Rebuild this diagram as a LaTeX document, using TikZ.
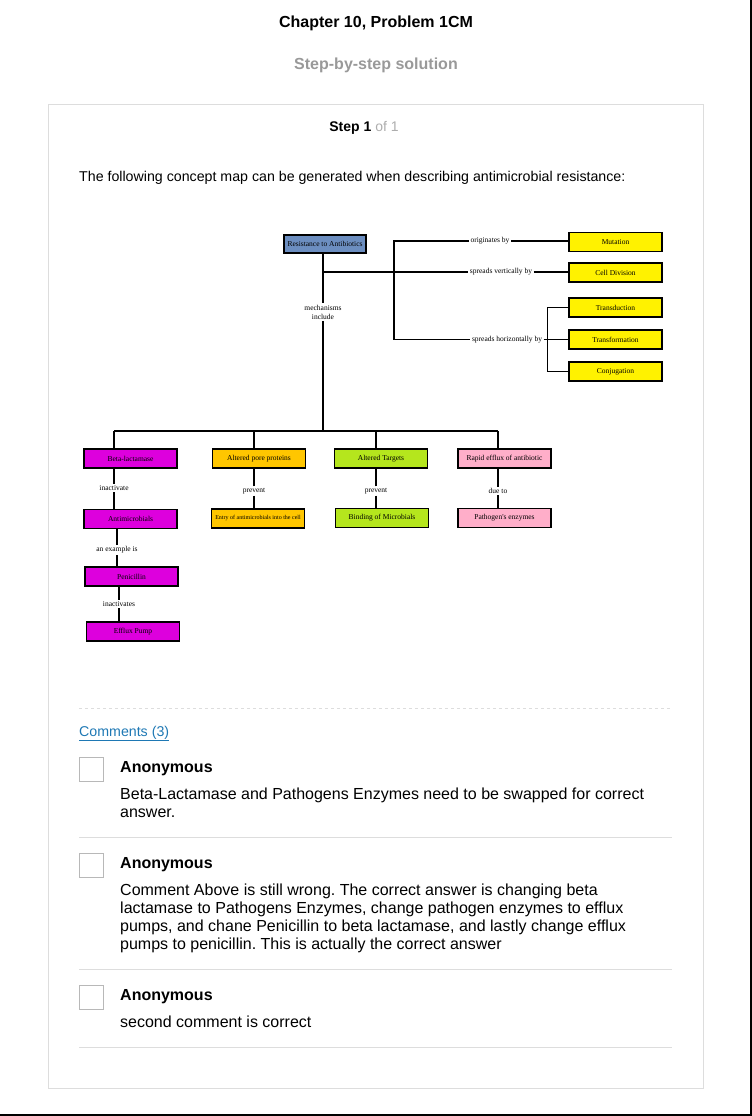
\documentclass[tikz,border=0pt]{standalone}
\usepackage{fontspec}
\setmainfont{Liberation Sans}
\newfontfamily\mapfont{Liberation Serif}
\usetikzlibrary{calc}
\frenchspacing

\definecolor{rootblue}{RGB}{108,142,192}
\definecolor{mapyellow}{RGB}{255,242,0}
\definecolor{mapmagenta}{RGB}{221,0,221}
\definecolor{maporange}{RGB}{255,198,0}
\definecolor{mapgreen}{RGB}{181,230,29}
\definecolor{mappink}{RGB}{255,174,201}
\definecolor{cardline}{RGB}{221,221,221}
\definecolor{softgray}{RGB}{153,153,153}
\definecolor{linkblue}{RGB}{30,120,180}

\tikzset{
  mapbox/.style={draw, line width=1.4pt, minimum width=93pt, minimum height=19pt,
    inner sep=0pt, font=\mapfont\fontsize{7.5}{8}\selectfont},
  maplabel/.style={inner sep=1.5pt, font=\mapfont\fontsize{7.5}{9}\selectfont},
  mapline/.style={line width=1.4pt},
  pagetext/.style={anchor=west, inner sep=0pt, font=\fontsize{14.2}{17}\selectfont},
  commenttext/.style={anchor=north west, inner sep=0pt, align=left,
    font=\fontsize{16}{18}\selectfont},
  author/.style={anchor=west, inner sep=0pt, font=\bfseries\fontsize{16}{18}\selectfont},
  tickbox/.style={draw=softgray!70, line width=0.8pt, minimum size=24pt, inner sep=0pt}
}

\begin{document}
\begin{tikzpicture}[x=1pt,y=-1pt]
\useasboundingbox (0,0) rectangle (752,1116);
\draw[line width=2pt] (751,0) -- (751,1115) -- (0,1115);

% page header
\node[font=\bfseries\fontsize{16}{19}\selectfont] (title) at (376,23) {Chapter 10, Problem 1CM};
\node[font=\bfseries\fontsize{16}{19}\selectfont, text=softgray] (sub) at (376,65) {Step-by-step solution};

\draw[cardline, line width=1pt] (48,104) rectangle (703,1088);
\node[font=\fontsize{14}{16}\selectfont] (step) at (364,128) {\textbf{Step 1} \textcolor{softgray!80}{of 1}};
\node[pagetext] (intro) at (79,177.5) {The following concept map can be generated when describing antimicrobial resistance:};

% concept map, upper part
\begin{scope}
\node[mapbox, fill=rootblue, minimum width=82pt, minimum height=18pt] (rta) at (325,244) {Resistance to Antibiotics};

\node[mapbox, fill=mapyellow] (mut) at (615.5,242) {Mutation};
\node[mapbox, fill=mapyellow] (cell) at (615.5,272.5) {Cell Division};
\node[mapbox, fill=mapyellow] (trd) at (615.5,307.5) {Transduction};
\node[mapbox, fill=mapyellow] (trf) at (615.5,339.5) {Transformation};
\node[mapbox, fill=mapyellow] (cnj) at (615.5,371.5) {Conjugation};

\node[maplabel] (orig) at (490,241) {originates by};
\node[maplabel] (spv) at (501,272) {spreads vertically by};
\node[maplabel] (sph) at (507,339.5) {spreads horizontally by};
\node[maplabel, align=center] (mech) at (323,312) {mechanisms\\include};

\coordinate (j1) at (323,272);
\coordinate (vt) at (394,241);
\coordinate (vb) at (394,339.5);
\coordinate (bus) at (323,431);

\draw[mapline] (mech |- rta.south) -- (mech);
\draw[mapline] (mech) -- (bus);
\draw[mapline] (j1) -- (spv);
\draw[mapline] (spv) -- (spv -| cell.west);
\draw[mapline] (orig) -- (vt) -- (vb) -- (sph);
\draw[mapline] (orig) -- (orig -| mut.west);
\draw[mapline] (sph) -- (sph -| trf.west);
\draw[mapline] (trd.west) -| ([xshift=-21pt]cnj.west) -- (cnj.west);
\end{scope}

% concept map, lower part
\begin{scope}
\node[mapbox, fill=mapmagenta] (beta) at (130.5,458.5) {Beta-lactamase};
\node[mapbox, fill=mapmagenta] (antim) at (130.5,519) {Antimicrobials};
\node[mapbox, fill=mapmagenta] (pen) at (131.5,576.5) {Penicillin};
\node[mapbox, fill=mapmagenta] (eff) at (133,631.5) {Efflux Pump};

\node[mapbox, fill=maporange] (pore) at (259,458.5) {Altered pore proteins};
\node[mapbox, fill=maporange, font=\mapfont\fontsize{6}{7}\selectfont] (entry) at (258,518.5) {Entry of antimicrobials into the cell};

\node[mapbox, fill=mapgreen] (targ) at (381,458.5) {Altered Targets};
\node[mapbox, fill=mapgreen] (bind) at (382,518) {Binding of Microbials};

\node[mapbox, fill=mappink] (rapid) at (504.5,458.5) {Rapid efflux of antibiotic};
\node[mapbox, fill=mappink] (pathz) at (504.5,518) {Pathogen's enzymes};

\node[maplabel] (inact) at (114,488) {inactivate};
\node[maplabel] (exmp) at (117,550) {an example is};
\node[maplabel] (inacs) at (119,604) {inactivates};
\node[maplabel] (prev1) at (254,491) {prevent};
\node[maplabel] (prev2) at (376,491) {prevent};
\node[maplabel] (due) at (498,491) {due to};

\draw[mapline] (inact |- bus) -- (due |- bus);
\foreach \lab/\upper in {inact/beta, prev1/pore, prev2/targ, due/rapid}
  \draw[mapline] (\lab |- bus) -- (\lab |- \upper.north);

\foreach \upper/\lab/\lower in {beta/inact/antim, antim/exmp/pen, pen/inacs/eff,
    pore/prev1/entry, targ/prev2/bind, rapid/due/pathz} {
  \draw[mapline] (\lab) -- (\lab |- \upper.south);
  \draw[mapline] (\lab) -- (\lab |- \lower.north);
}
\end{scope}

% comments
\draw[cardline, dashed, line width=0.8pt] (79,708) -- (672,708);
\node[pagetext, text=linkblue] (cmts) at (79,733.5) {\underline{Comments (3)}};

\node[tickbox] (box1) at (91,769) {};
\node[author] (auth1) at (120,768.5) {Anonymous};
\node[commenttext] (txt1) at (120,787.5) {Beta-Lactamase and Pathogens Enzymes need to be swapped for correct\\answer.};
\draw[cardline, line width=1pt] (79,837) -- (672,837);

\node[tickbox] (box2) at (91,865) {};
\node[author] (auth2) at (120,864.5) {Anonymous};
\node[commenttext] (txt2) at (120,883.5) {Comment Above is still wrong. The correct answer is changing beta\\
lactamase to Pathogens Enzymes, change pathogen enzymes to efflux\\
pumps, and chane Penicillin to beta lactamase, and lastly change efflux\\
pumps to penicillin. This is actually the correct answer};
\draw[cardline, line width=1pt] (79,969) -- (672,969);

\node[tickbox] (box3) at (91,997) {};
\node[author] (auth3) at (120,996.5) {Anonymous};
\node[commenttext] (txt3) at (120,1015.5) {second comment is correct};
\draw[cardline, line width=1pt] (79,1047) -- (672,1047);

\end{tikzpicture}
\end{document}
